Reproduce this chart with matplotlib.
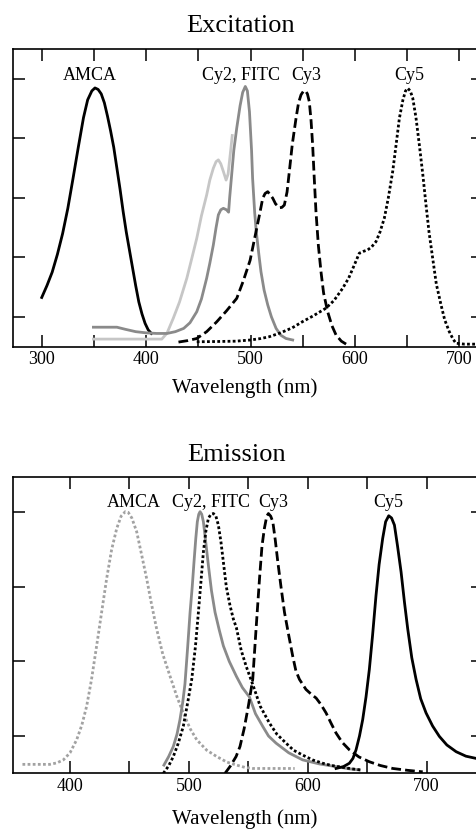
import matplotlib
matplotlib.use("Agg")
import matplotlib.pyplot as plt

plt.rcParams['font.family'] = ['Liberation Serif', 'DejaVu Serif']

# ---------------- Excitation data ----------------
amca_ex_x = [300, 305, 310, 315, 320, 325, 330, 335, 340, 344, 348, 351, 354, 357, 360, 363, 366, 369,
             372, 375, 378, 381, 384, 387, 390, 393, 396, 399, 402, 405]
amca_ex_y = [0.165, 0.205, 0.25, 0.31, 0.38, 0.465, 0.566, 0.67, 0.77, 0.83, 0.86, 0.87, 0.865, 0.85,
             0.82, 0.775, 0.725, 0.67, 0.60, 0.53, 0.454, 0.385, 0.325, 0.265, 0.205, 0.15, 0.11, 0.078,
             0.056, 0.044]

cy2_ex_x = [349.5, 372, 380, 390, 400, 410, 420, 428, 436, 442, 448.5, 453, 458, 461, 464.4, 467, 469.2,
            471.5, 474, 477, 479, 480, 482, 484, 486.8, 490, 492.5, 495, 497, 499, 501, 502, 504, 505.5,
            508, 510, 513, 516.5, 520, 524.5, 529, 534, 540.4]
cy2_ex_y = [0.065, 0.065, 0.058, 0.05, 0.046, 0.044, 0.044, 0.05, 0.061, 0.08, 0.117, 0.16, 0.23, 0.28,
            0.342, 0.40, 0.443, 0.46, 0.465, 0.46, 0.452, 0.50, 0.58, 0.66, 0.735, 0.81, 0.855, 0.875,
            0.86, 0.79, 0.66, 0.566, 0.45, 0.387, 0.31, 0.252, 0.19, 0.14, 0.10, 0.061, 0.038, 0.027,
            0.022]

fitc_ex_x = [349.5, 415, 420, 426, 432, 439, 444, 448.5, 453, 458, 461, 464.4, 467, 469.2, 471.5, 474,
             476.6, 478.5, 481, 482.5]
fitc_ex_y = [0.025, 0.025, 0.045, 0.095, 0.15, 0.23, 0.30, 0.364, 0.44, 0.51, 0.56, 0.60, 0.622, 0.628,
             0.615, 0.589, 0.56, 0.58, 0.66, 0.71]

cy3_ex_x = [431, 440, 448.5, 458, 467.6, 477, 486.8, 493, 499.6, 505.3, 509, 511.7, 514, 516.5, 519,
            521.3, 524, 527.6, 530, 532.4, 535, 537.2, 540, 543.6, 546, 548.4, 550.5, 552.5, 554.5,
            556.3, 558, 559.5, 561, 562.7, 565, 567.5, 570, 573.9, 578, 581.9, 587, 593]
cy3_ex_y = [0.015, 0.02, 0.027, 0.05, 0.083, 0.12, 0.162, 0.22, 0.29, 0.387, 0.45, 0.499, 0.515, 0.521,
            0.51, 0.499, 0.48, 0.467, 0.468, 0.476, 0.52, 0.589, 0.68, 0.768, 0.82, 0.847, 0.858, 0.861,
            0.85, 0.824, 0.76, 0.679, 0.57, 0.454, 0.34, 0.252, 0.18, 0.117, 0.07, 0.039, 0.018, 0.005]

cy5_ex_x = [448.5, 470, 486, 500, 510, 518, 528, 540, 550, 560, 572.3, 580, 588.3, 594, 599.4, 604.2,
            608, 612.2, 616, 620.2, 624, 628.2, 632, 636.2, 639.5, 642.6, 646, 648.5, 650.6, 653, 655.4,
            658.5, 661.7, 665, 668.1, 671, 674.5, 678, 682.5, 686, 690.4, 694, 696.8, 705, 716, 723]
cy5_ex_y = [0.016, 0.017, 0.018, 0.022, 0.027, 0.033, 0.045, 0.063, 0.084, 0.103, 0.129, 0.155, 0.196,
            0.23, 0.274, 0.314, 0.32, 0.325, 0.335, 0.353, 0.385, 0.432, 0.50, 0.589, 0.68, 0.768, 0.83,
            0.86, 0.869, 0.86, 0.836, 0.77, 0.679, 0.58, 0.477, 0.385, 0.297, 0.21, 0.14, 0.09, 0.05,
            0.025, 0.011, 0.008, 0.008, 0.008]

# ---------------- Emission data ----------------
amca_em_x = [360, 370, 383, 389, 394.4, 400, 405.6, 410, 414, 418, 422.4, 426.5, 430.8, 435, 439.3, 443,
             446.5, 449, 452, 456.1, 460, 464.5, 468.5, 472.9, 478, 484.1, 490, 495.3, 501, 506.6, 515,
             523.4, 532, 540.2, 547, 553.7, 589]
amca_em_y = [0.024, 0.024, 0.024, 0.028, 0.036, 0.055, 0.09, 0.13, 0.18, 0.25, 0.342, 0.43, 0.522, 0.60,
             0.657, 0.69, 0.702, 0.70, 0.685, 0.648, 0.59, 0.522, 0.455, 0.387, 0.32, 0.261, 0.205,
             0.162, 0.12, 0.09, 0.062, 0.045, 0.03, 0.022, 0.016, 0.013, 0.013]

cy2_em_x = [479, 483, 486.9, 490, 492.5, 494.8, 496.7, 499, 501, 502.8, 504.3, 505.8, 507.1, 508.3, 509.4,
            510.8, 512.2, 514, 516.4, 519, 522, 525.5, 529, 534, 540, 545, 550.9, 556, 562.1, 567, 573.3,
            584, 595.7, 610, 623.8, 635, 643.4]
cy2_em_y = [0.022, 0.045, 0.072, 0.105, 0.144, 0.19, 0.24, 0.34, 0.432, 0.50, 0.567, 0.63, 0.675, 0.695,
            0.702, 0.695, 0.675, 0.625, 0.558, 0.49, 0.432, 0.385, 0.342, 0.30, 0.26, 0.23, 0.205, 0.16,
            0.126, 0.10, 0.081, 0.055, 0.036, 0.025, 0.018, 0.012, 0.009]

fitc_em_x = [478.5, 483, 486.9, 491, 495.3, 499, 502.4, 505.5, 508, 510.3, 512.2, 514.3, 516.4, 518.5,
             520.6, 522.7, 524.8, 527, 529, 531.5, 534.6, 537.4, 540, 544, 548.1, 554.2, 560, 567.7, 574,
             581.7, 588, 595.7, 604, 612.6, 620, 629.4, 637, 644.8]
fitc_em_y = [0.0, 0.02, 0.045, 0.08, 0.126, 0.19, 0.252, 0.34, 0.432, 0.52, 0.594, 0.65, 0.684, 0.695,
             0.697, 0.69, 0.666, 0.62, 0.567, 0.50, 0.45, 0.414, 0.39, 0.33, 0.288, 0.234, 0.18, 0.135,
             0.105, 0.081, 0.062, 0.049, 0.036, 0.027, 0.021, 0.016, 0.012, 0.009]

cy3_em_x = [530.4, 535, 539.7, 543, 546.5, 550, 553.7, 556.5, 559.4, 561.5, 563.5, 565.5, 566.9, 568.8,
            570.6, 572.7, 574.8, 577.5, 580.4, 584, 587.3, 590, 593, 598.5, 603, 607, 611, 615.4, 619.5,
            623.8, 629, 635, 643, 651.8, 661, 671.5, 684, 696.7]
cy3_em_y = [0.0, 0.02, 0.045, 0.072, 0.12, 0.18, 0.252, 0.387, 0.522, 0.61, 0.657, 0.69, 0.697, 0.69,
            0.675, 0.625, 0.567, 0.50, 0.432, 0.37, 0.315, 0.275, 0.252, 0.225, 0.212, 0.202, 0.185,
            0.162, 0.135, 0.108, 0.083, 0.063, 0.044, 0.031, 0.021, 0.013, 0.008, 0.004]

cy5_em_x = [623.8, 630, 635, 638, 640.6, 643.5, 646.2, 649, 651.8, 654.5, 657.4, 660, 663, 665.5, 668.1,
            670.5, 672.9, 675.5, 678.5, 681.3, 684.1, 687.5, 691.1, 695, 699.5, 705, 710.7, 717, 724.8,
            733, 741.6, 748]
cy5_em_y = [0.013, 0.018, 0.027, 0.04, 0.063, 0.10, 0.144, 0.205, 0.279, 0.37, 0.477, 0.56, 0.63, 0.675,
            0.691, 0.685, 0.666, 0.61, 0.54, 0.46, 0.387, 0.31, 0.252, 0.20, 0.162, 0.127, 0.099, 0.076,
            0.058, 0.046, 0.04, 0.036]

# labels
ex_labels = ["AMCA", "Cy2, FITC", "Cy3", "Cy5"]
ex_label_x = [346, 490.5, 553.5, 652]
em_labels = ["AMCA", "Cy2, FITC", "Cy3", "Cy5"]
em_label_x = [453.3, 518.2, 571, 667.3]

ex_xticks = [300, 350, 400, 450, 500, 550, 600, 650, 700]
ex_xticklabels = ["300", "", "400", "", "500", "", "600", "", "700"]
em_xticks = [400, 450, 500, 550, 600, 650, 700]
em_xticklabels = ["400", "", "500", "", "600", "", "700"]
ex_yticks = [0.1, 0.3, 0.5, 0.7, 0.9]
em_yticks = [0.1, 0.3, 0.5, 0.7]

BLACK = "#000000"
DGRAY = "#8a8a8a"
LGRAY = "#c6c6c6"
MGRAY = "#a2a2a2"
LW = 2.0
DASH = (0, (3.5, 1.5))
DOT = (0, (1, 0.85))

fig = plt.figure(figsize=(4.76, 8.30), dpi=100)

ax1 = fig.add_axes([0.0267, 0.5825, 0.988, 0.3581])
ax2 = fig.add_axes([0.0267, 0.0683, 0.988, 0.357])

# Excitation
ax1.plot(amca_ex_x, amca_ex_y, color=BLACK, lw=LW)
ax1.plot(fitc_ex_x, fitc_ex_y, color=LGRAY, lw=LW)
ax1.plot(cy2_ex_x, cy2_ex_y, color=DGRAY, lw=LW)
ax1.plot(cy3_ex_x, cy3_ex_y, color=BLACK, lw=LW, linestyle=DASH)
ax1.plot(cy5_ex_x, cy5_ex_y, color=BLACK, lw=LW, linestyle=DOT)
ax1.set_xlim(272.2, 722.7)
ax1.set_ylim(0, 1.0)
ax1.set_xticks(ex_xticks, ex_xticklabels)
ax1.set_yticks(ex_yticks, [""] * len(ex_yticks))
for lab, x in zip(ex_labels, ex_label_x):
    ax1.text(x, 0.897, lab, ha='center', va='baseline', fontsize=13)

# Emission
ax2.plot(amca_em_x, amca_em_y, color=MGRAY, lw=LW, linestyle=DOT)
ax2.plot(cy2_em_x, cy2_em_y, color=DGRAY, lw=LW)
ax2.plot(fitc_em_x, fitc_em_y, color=BLACK, lw=LW, linestyle=DOT)
ax2.plot(cy3_em_x, cy3_em_y, color=BLACK, lw=LW, linestyle=DASH)
ax2.plot(cy5_em_x, cy5_em_y, color=BLACK, lw=LW)
ax2.set_xlim(351.8, 747.4)
ax2.set_ylim(0, 0.795)
ax2.set_xticks(em_xticks, em_xticklabels)
ax2.set_yticks(em_yticks, [""] * len(em_yticks))
for lab, x in zip(em_labels, em_label_x):
    ax2.text(x, 0.715, lab, ha='center', va='baseline', fontsize=13)

for ax in (ax1, ax2):
    for s in ax.spines.values():
        s.set_linewidth(1.2)
    ax.tick_params(axis='both', direction='in', length=8.7, width=1.1,
                   top=True, right=True, labelsize=13, pad=3.5)

fig.text(0.505, 1 - 31.5 / 830, "Excitation", ha='center', va='baseline', fontsize=19)
fig.text(0.496, 1 - 460.5 / 830, "Emission", ha='center', va='baseline', fontsize=19)
fig.text(0.515, 1 - 393 / 830, "Wavelength (nm)", ha='center', va='baseline', fontsize=15)
fig.text(0.515, 1 - 824 / 830, "Wavelength (nm)", ha='center', va='baseline', fontsize=15)

fig.savefig("out.png", dpi=100)
